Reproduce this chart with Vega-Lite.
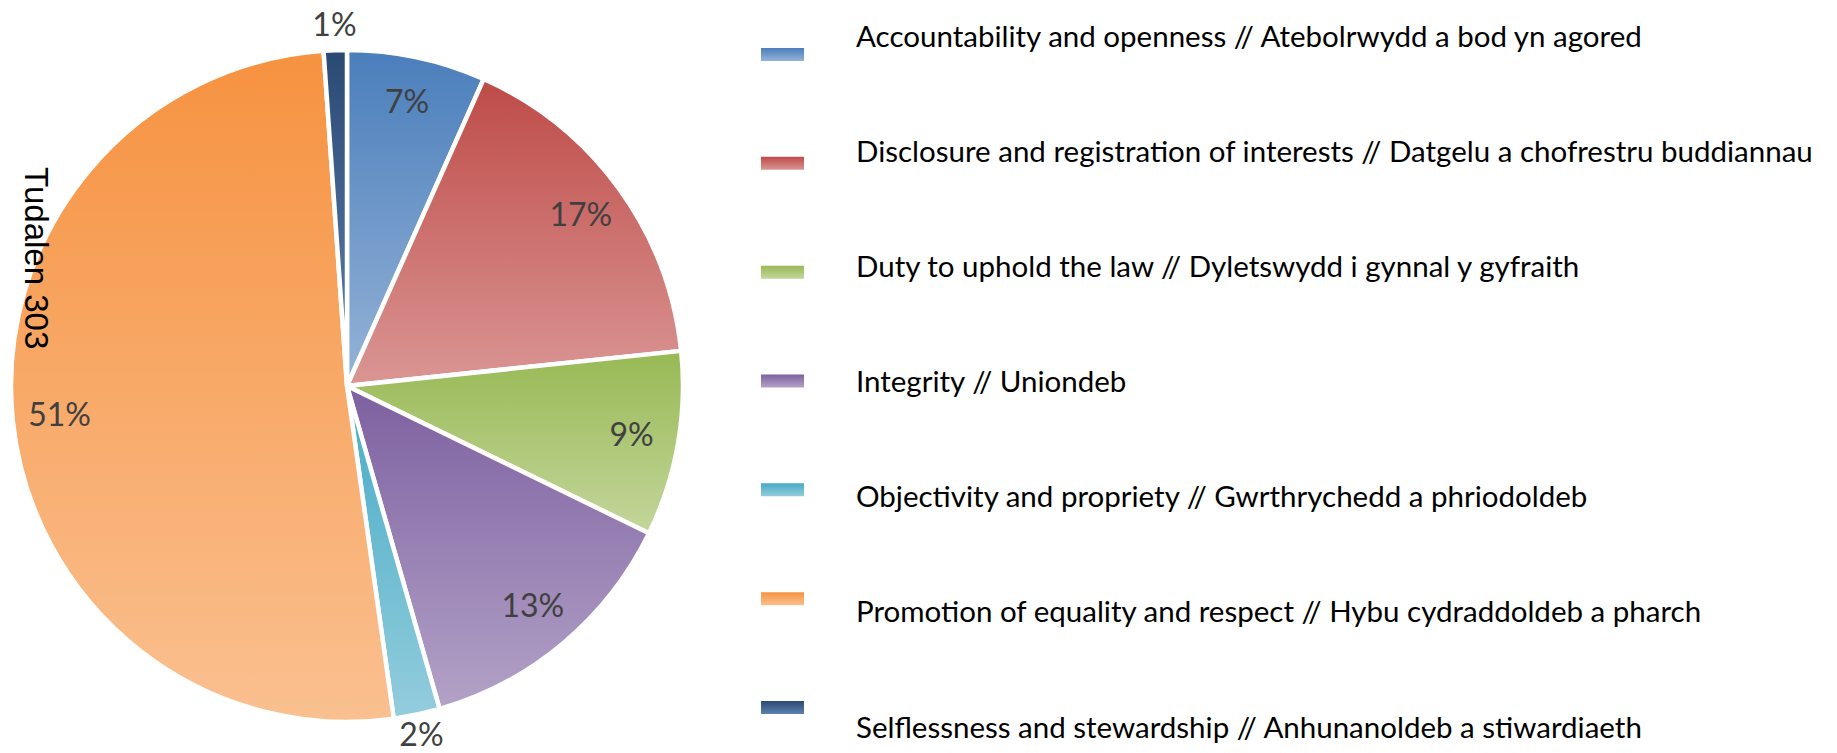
{
  "$schema": "https://vega.github.io/schema/vega-lite/v6.json",
  "padding": {"left": 0, "top": 10, "right": 0, "bottom": 0},
  "spacing": 0,
  "bounds": "flush",
  "background": "white",
  "config": {"view": {"stroke": null}},
  "data": {
    "values": [
      {"order": 1, "cat": "Accountability and openness  // Atebolrwydd a bod yn agored", "value": 6, "label": "7%"},
      {"order": 2, "cat": "Disclosure and registration of interests // Datgelu a chofrestru buddiannau", "value": 15, "label": "17%"},
      {"order": 3, "cat": "Duty to uphold the law // Dyletswydd i gynnal y gyfraith", "value": 8, "label": "9%"},
      {"order": 4, "cat": "Integrity // Uniondeb", "value": 12, "label": "13%"},
      {"order": 5, "cat": "Objectivity and propriety // Gwrthrychedd a phriodoldeb", "value": 2, "label": "2%"},
      {"order": 6, "cat": "Promotion of equality and respect // Hybu cydraddoldeb a pharch", "value": 46, "label": "51%"},
      {"order": 7, "cat": "Selflessness and stewardship // Anhunanoldeb a stiwardiaeth", "value": 1, "label": "1%"}
    ]
  },
  "hconcat": [
    {
      "width": 694,
      "height": 742,
      "title": {
        "text": "Tudalen 303",
        "orient": "left",
        "angle": 90,
        "anchor": "end",
        "align": "left",
        "baseline": "alphabetic",
        "offset": -58,
        "frame": "group",
        "font": "Liberation Sans",
        "fontSize": 33,
        "fontWeight": "normal",
        "color": "#000000",
        "dx": 152
      },
      "transform": [{"stack": "value", "groupby": [], "sort": [{"field": "order"}], "as": ["v0", "v1"]}],
      "layer": [
        {
          "transform": [{"filter": "datum.order == 1"}],
          "mark": {"type": "arc", "outerRadius": 336, "stroke": "#ffffff", "strokeWidth": 4.5,
            "fill": {"gradient": "linear", "x1": 0, "y1": 0, "x2": 0, "y2": 1, "stops": [{"offset": 0, "color": "#4A7EBB"}, {"offset": 1, "color": "#95B3D7"}]}},
          "encoding": {"theta": {"field": "v0", "type": "quantitative", "scale": {"domain": [0, 90]}}, "theta2": {"field": "v1"}}
        },
        {
          "transform": [{"filter": "datum.order == 2"}],
          "mark": {"type": "arc", "outerRadius": 336, "stroke": "#ffffff", "strokeWidth": 4.5,
            "fill": {"gradient": "linear", "x1": 0, "y1": 0, "x2": 0, "y2": 1, "stops": [{"offset": 0, "color": "#BE4B48"}, {"offset": 1, "color": "#DA9694"}]}},
          "encoding": {"theta": {"field": "v0", "type": "quantitative", "scale": {"domain": [0, 90]}}, "theta2": {"field": "v1"}}
        },
        {
          "transform": [{"filter": "datum.order == 3"}],
          "mark": {"type": "arc", "outerRadius": 336, "stroke": "#ffffff", "strokeWidth": 4.5,
            "fill": {"gradient": "linear", "x1": 0, "y1": 0, "x2": 0, "y2": 1, "stops": [{"offset": 0, "color": "#98B954"}, {"offset": 1, "color": "#C3D69B"}]}},
          "encoding": {"theta": {"field": "v0", "type": "quantitative", "scale": {"domain": [0, 90]}}, "theta2": {"field": "v1"}}
        },
        {
          "transform": [{"filter": "datum.order == 4"}],
          "mark": {"type": "arc", "outerRadius": 336, "stroke": "#ffffff", "strokeWidth": 4.5,
            "fill": {"gradient": "linear", "x1": 0, "y1": 0, "x2": 0, "y2": 1, "stops": [{"offset": 0, "color": "#7D60A0"}, {"offset": 1, "color": "#B3A2C7"}]}},
          "encoding": {"theta": {"field": "v0", "type": "quantitative", "scale": {"domain": [0, 90]}}, "theta2": {"field": "v1"}}
        },
        {
          "transform": [{"filter": "datum.order == 5"}],
          "mark": {"type": "arc", "outerRadius": 336, "stroke": "#ffffff", "strokeWidth": 4.5,
            "fill": {"gradient": "linear", "x1": 0, "y1": 0, "x2": 0, "y2": 1, "stops": [{"offset": 0, "color": "#46AAC5"}, {"offset": 1, "color": "#93CDDD"}]}},
          "encoding": {"theta": {"field": "v0", "type": "quantitative", "scale": {"domain": [0, 90]}}, "theta2": {"field": "v1"}}
        },
        {
          "transform": [{"filter": "datum.order == 6"}],
          "mark": {"type": "arc", "outerRadius": 336, "stroke": "#ffffff", "strokeWidth": 4.5,
            "fill": {"gradient": "linear", "x1": 0, "y1": 0, "x2": 0, "y2": 1, "stops": [{"offset": 0, "color": "#F69240"}, {"offset": 1, "color": "#FAC090"}]}},
          "encoding": {"theta": {"field": "v0", "type": "quantitative", "scale": {"domain": [0, 90]}}, "theta2": {"field": "v1"}}
        },
        {
          "transform": [{"filter": "datum.order == 7"}],
          "mark": {"type": "arc", "outerRadius": 336, "stroke": "#ffffff", "strokeWidth": 4.5,
            "fill": {"gradient": "linear", "x1": 0, "y1": 0, "x2": 0, "y2": 1, "stops": [{"offset": 0, "color": "#2A4A73"}, {"offset": 1, "color": "#5E80B0"}]}},
          "encoding": {"theta": {"field": "v0", "type": "quantitative", "scale": {"domain": [0, 90]}}, "theta2": {"field": "v1"}}
        },
        {
          "mark": {"type": "text", "font": "Lato", "fontSize": 32, "color": "#404040", "align": "center", "baseline": "middle"},
          "encoding": {
            "theta": {"field": "value", "type": "quantitative", "stack": true, "scale": {"domain": [0, 90]}},
            "radius": {"field": "value", "type": "quantitative", "scale": {"type": "linear", "domain": [1, 2, 5, 46], "range": [360, 358, 289, 289]}},
            "order": {"field": "order", "type": "quantitative"},
            "detail": {"field": "cat", "type": "nominal"},
            "text": {"field": "label", "type": "nominal"}
          }
        }
      ]
    },
    {
      "width": 177,
      "height": 742,
      "layer": [
        {
          "encoding": {
            "y": {"field": "cat", "type": "nominal", "axis": null,
              "scale": {"type": "point", "padding": 0.409, "align": 0.444,
                "domain": [
                  "Accountability and openness  // Atebolrwydd a bod yn agored",
                  "Disclosure and registration of interests // Datgelu a chofrestru buddiannau",
                  "Duty to uphold the law // Dyletswydd i gynnal y gyfraith",
                  "Integrity // Uniondeb",
                  "Objectivity and propriety // Gwrthrychedd a phriodoldeb",
                  "Promotion of equality and respect // Hybu cydraddoldeb a pharch",
                  "Selflessness and stewardship // Anhunanoldeb a stiwardiaeth"
                ]}}
          },
          "layer": [
            {"transform": [{"filter": "datum.order == 1"}],
             "mark": {"type": "point", "shape": "M-1.654,-0.5H1.654V0.5H-1.654Z", "size": 676, "filled": true, "opacity": 1, "strokeWidth": 0,
               "fill": {"gradient": "linear", "x1": 0, "y1": 0, "x2": 0, "y2": 1, "stops": [{"offset": 0, "color": "#4A7EBB"}, {"offset": 1, "color": "#95B3D7"}]}}},
            {"transform": [{"filter": "datum.order == 2"}],
             "mark": {"type": "point", "shape": "M-1.654,-0.5H1.654V0.5H-1.654Z", "size": 676, "filled": true, "opacity": 1, "strokeWidth": 0,
               "fill": {"gradient": "linear", "x1": 0, "y1": 0, "x2": 0, "y2": 1, "stops": [{"offset": 0, "color": "#BE4B48"}, {"offset": 1, "color": "#DA9694"}]}}},
            {"transform": [{"filter": "datum.order == 3"}],
             "mark": {"type": "point", "shape": "M-1.654,-0.5H1.654V0.5H-1.654Z", "size": 676, "filled": true, "opacity": 1, "strokeWidth": 0,
               "fill": {"gradient": "linear", "x1": 0, "y1": 0, "x2": 0, "y2": 1, "stops": [{"offset": 0, "color": "#98B954"}, {"offset": 1, "color": "#C3D69B"}]}}},
            {"transform": [{"filter": "datum.order == 4"}],
             "mark": {"type": "point", "shape": "M-1.654,-0.5H1.654V0.5H-1.654Z", "size": 676, "filled": true, "opacity": 1, "strokeWidth": 0,
               "fill": {"gradient": "linear", "x1": 0, "y1": 0, "x2": 0, "y2": 1, "stops": [{"offset": 0, "color": "#7D60A0"}, {"offset": 1, "color": "#B3A2C7"}]}}},
            {"transform": [{"filter": "datum.order == 5"}],
             "mark": {"type": "point", "shape": "M-1.654,-0.5H1.654V0.5H-1.654Z", "size": 676, "filled": true, "opacity": 1, "strokeWidth": 0,
               "fill": {"gradient": "linear", "x1": 0, "y1": 0, "x2": 0, "y2": 1, "stops": [{"offset": 0, "color": "#46AAC5"}, {"offset": 1, "color": "#93CDDD"}]}}},
            {"transform": [{"filter": "datum.order == 6"}],
             "mark": {"type": "point", "shape": "M-1.654,-0.5H1.654V0.5H-1.654Z", "size": 676, "filled": true, "opacity": 1, "strokeWidth": 0,
               "fill": {"gradient": "linear", "x1": 0, "y1": 0, "x2": 0, "y2": 1, "stops": [{"offset": 0, "color": "#F69240"}, {"offset": 1, "color": "#FAC090"}]}}},
            {"transform": [{"filter": "datum.order == 7"}],
             "mark": {"type": "point", "shape": "M-1.654,-0.5H1.654V0.5H-1.654Z", "size": 676, "filled": true, "opacity": 1, "strokeWidth": 0,
               "fill": {"gradient": "linear", "x1": 0, "y1": 0, "x2": 0, "y2": 1, "stops": [{"offset": 0, "color": "#2A4A73"}, {"offset": 1, "color": "#5E80B0"}]}}}
          ]
        },
        {
          "mark": {"type": "text", "align": "left", "baseline": "middle", "dx": 73.5, "font": "Lato", "fontSize": 29.5, "color": "#000000"},
          "encoding": {
            "y": {"field": "cat", "type": "nominal", "sort": {"field": "order", "op": "min"}, "scale": {"type": "point", "padding": 0.2237, "align": 0.447}, "axis": null},
            "text": {"field": "cat", "type": "nominal"}
          }
        }
      ],
      "resolve": {"scale": {"y": "independent"}}
    }
  ]
}
